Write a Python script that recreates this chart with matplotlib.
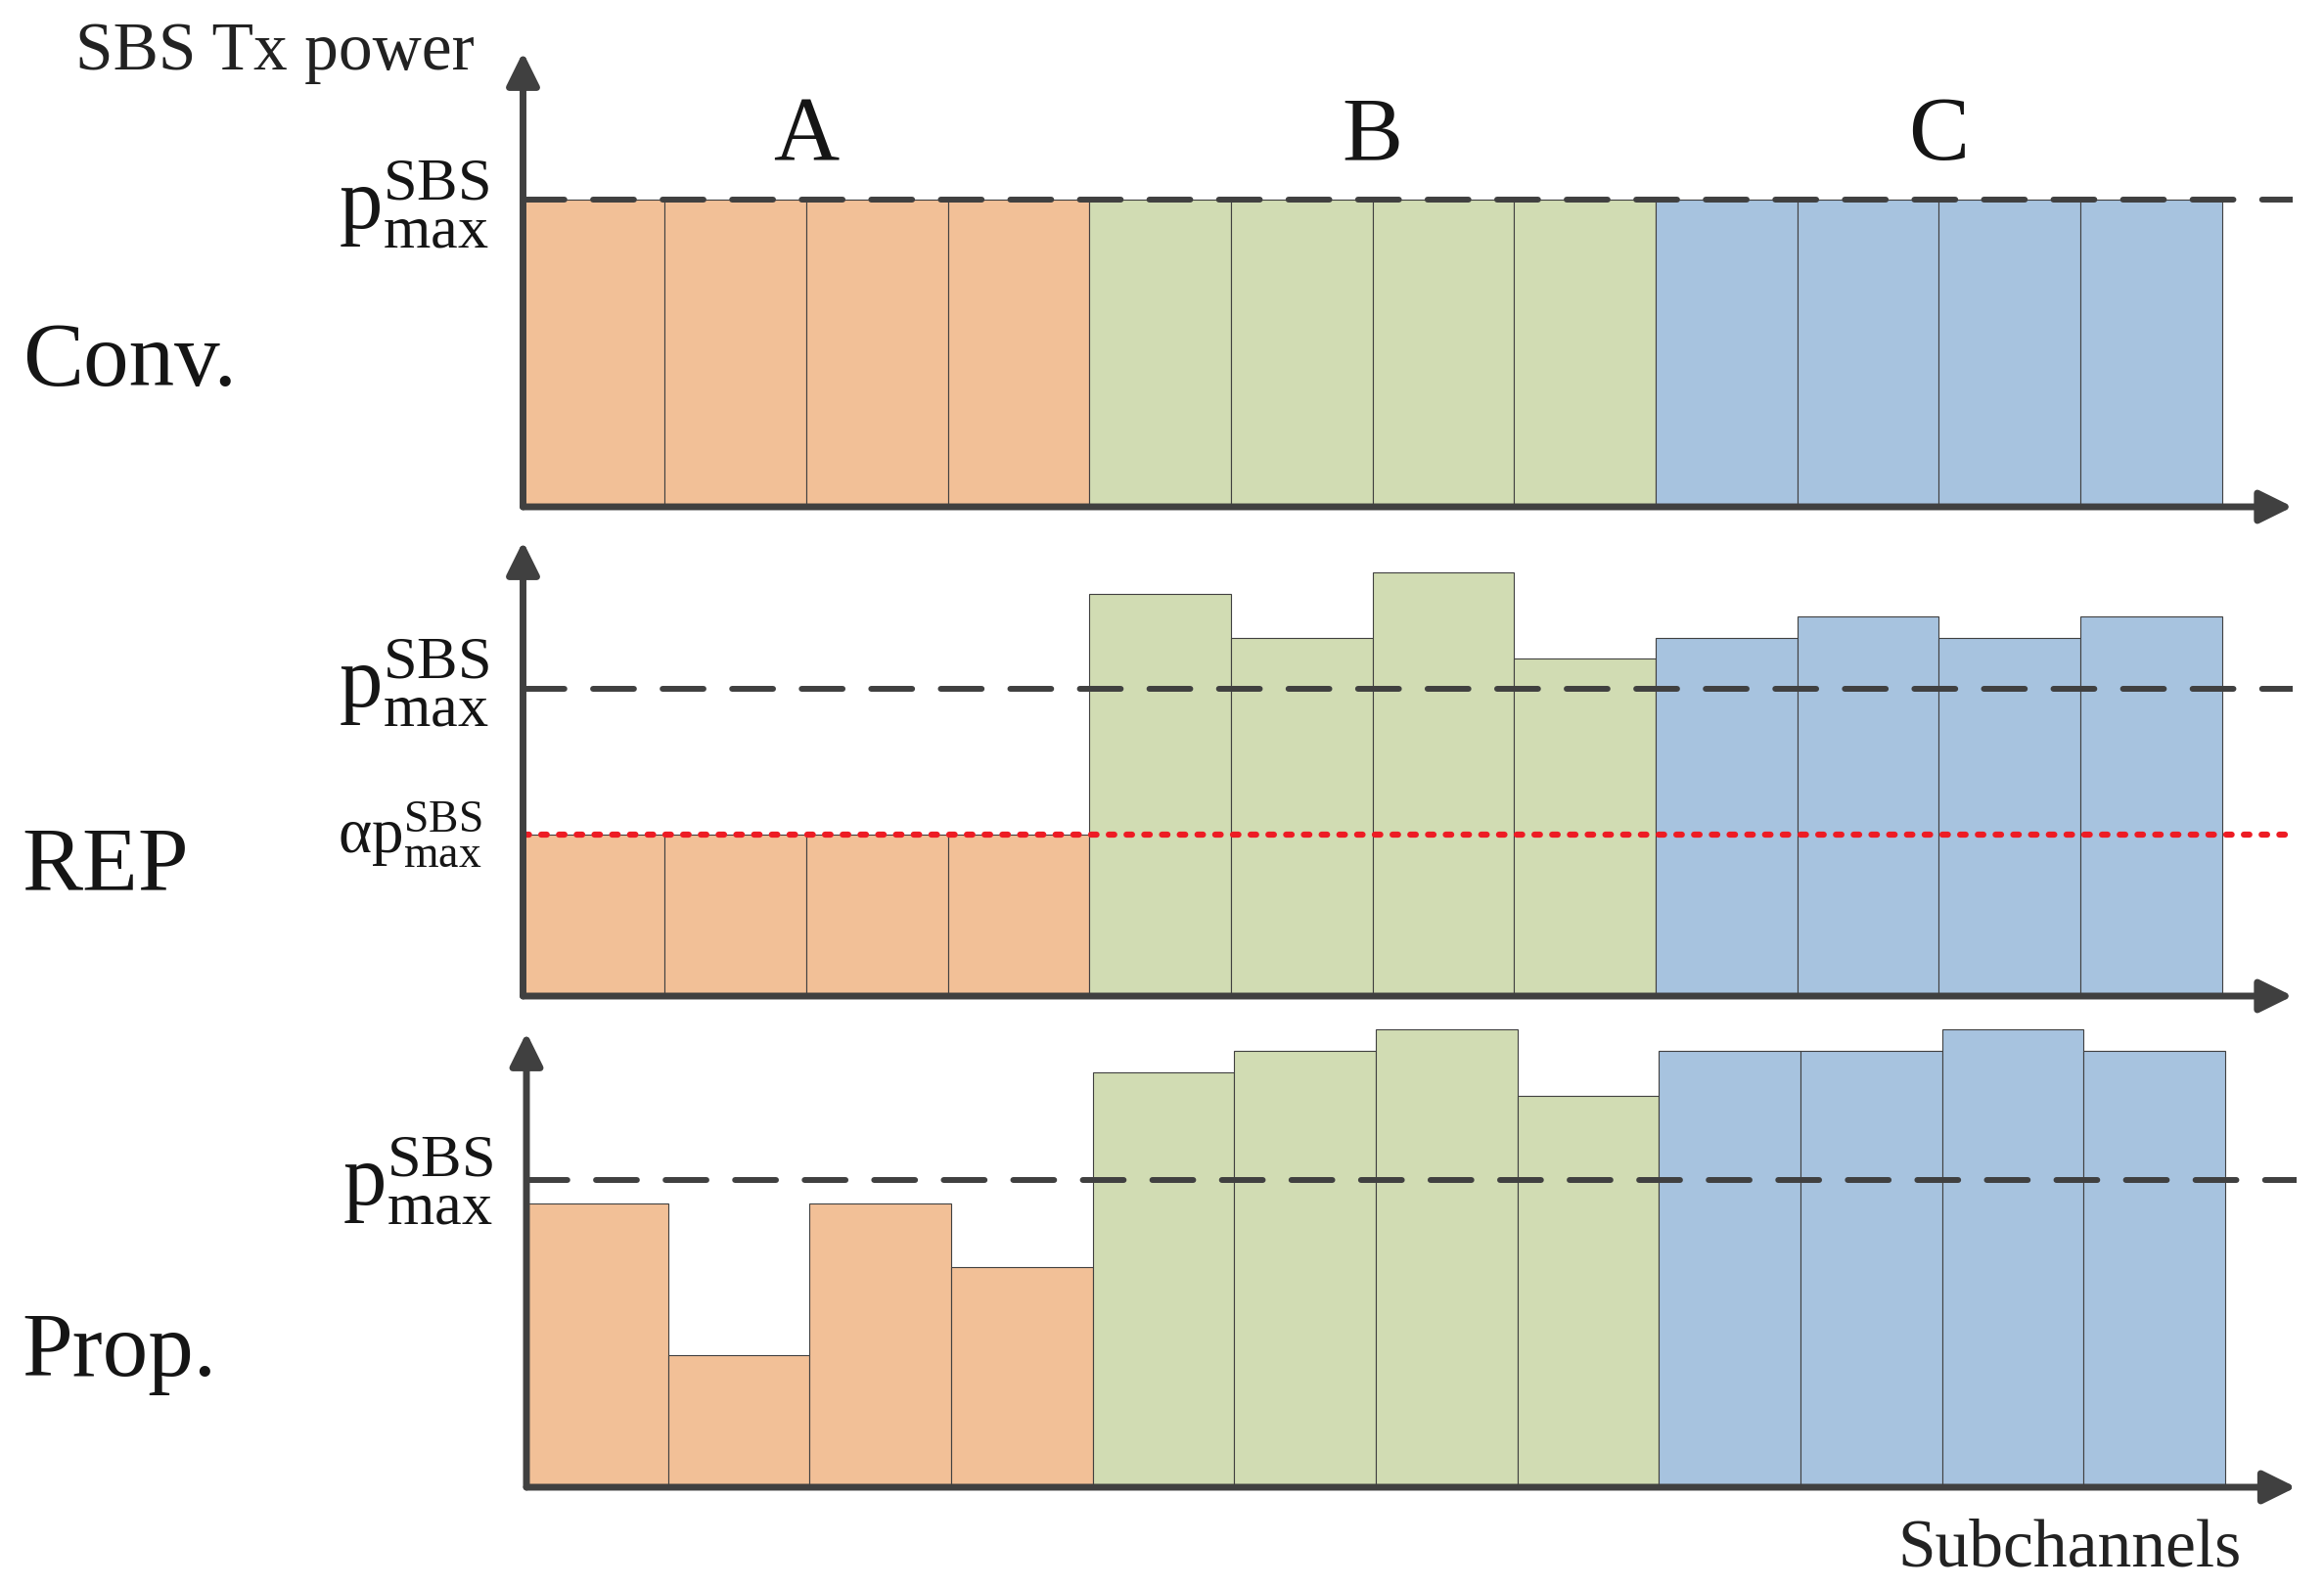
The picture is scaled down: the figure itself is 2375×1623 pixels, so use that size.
import numpy as np
import matplotlib
matplotlib.use('Agg')
import matplotlib.pyplot as plt
from matplotlib.transforms import offset_copy

plt.rcParams['font.family'] = ['Liberation Serif', 'DejaVu Serif']
plt.rcParams['mathtext.fontset'] = 'custom'
plt.rcParams['mathtext.rm'] = 'Liberation Serif'
plt.rcParams['mathtext.it'] = 'Liberation Serif:italic'

# power per subchannel, in units of p_max^SBS
groups = ['A'] * 4 + ['B'] * 4 + ['C'] * 4
conv = [1.0, 1.0, 1.0, 1.0, 1.0, 1.0, 1.0, 1.0, 1.0, 1.0, 1.0, 1.0]
rep = [0.525, 0.525, 0.525, 0.525, 1.31, 1.165, 1.38, 1.10, 1.165, 1.235, 1.165, 1.235]
prop = [0.925, 0.43, 0.925, 0.715, 1.35, 1.42, 1.49, 1.275, 1.42, 1.42, 1.49, 1.42]
alpha = 0.525
p_max = 1.0

group_names = ['A', 'B', 'C']
group_centers = [2, 6, 10]
colors = {'A': '#F2C097', 'B': '#D1DCB3', 'C': '#A7C3DF'}
dark = '#404040'
txt = '#151515'

W, Hpx = 2375, 1623
fig = plt.figure(figsize=(W / 100, Hpx / 100), dpi=100)
unit = 314.0          # pixels per p_max
ytop = 1.48
h = ytop * unit / Hpx
w = 1808.5 / W
XR = 12.5
ax_top = fig.add_axes([534.5 / W, 1 - 518 / Hpx, w, h])
ax_mid = fig.add_axes([534.5 / W, 1 - 1018 / Hpx, w, h])
ax_bot = fig.add_axes([538.0 / W, 1 - 1520 / Hpx, w, h])

pmax_lbl = r'$\mathrm{p}^{\mathrm{SBS}}_{\mathrm{max}}$'
apmax_lbl = r'$\mathrm{\alpha p}^{\mathrm{SBS}}_{\mathrm{max}}$'

lbl_dy = {'top': -21, 'mid': -13, 'bot': -18}
for key, ax, vals in [('top', ax_top, conv), ('mid', ax_mid, rep), ('bot', ax_bot, prop)]:
    x = np.arange(len(vals)) + 0.5
    ax.bar(x, vals, width=1.0, color=[colors[g] for g in groups],
           edgecolor=dark, linewidth=0.8, zorder=2, clip_on=False)
    ax.set_xlim(0, XR)
    ax.set_ylim(0, ytop)
    ax.axis('off')
    ax.axhline(p_max, color=dark, lw=4.3, dashes=(7.0, 4.9),
               dash_capstyle='round', zorder=4)
    # axes arrows
    for end in [(1, 0), (0, 1)]:
        ax.annotate('', xy=end, xytext=(0, 0), xycoords='axes fraction',
                    arrowprops=dict(arrowstyle='-|>,head_length=0.85,head_width=0.42',
                                    mutation_scale=24, lw=5, color=dark,
                                    shrinkA=0, shrinkB=0), zorder=5,
                    annotation_clip=False)
    tr = offset_copy(ax.get_yaxis_transform(), fig=fig, x=0, y=lbl_dy[key], units='points')
    ax.text(-0.019, p_max, pmax_lbl, transform=tr,
            ha='right', va='baseline', fontsize=64, color=txt)

ax_mid.axhline(alpha, color='#ED1C24', lw=4.5, dashes=(0.9, 2.0),
               dash_capstyle='round', zorder=4)
tr = offset_copy(ax_mid.get_yaxis_transform(), fig=fig, x=0, y=-13, units='points')
ax_mid.text(-0.023, alpha, apmax_lbl, transform=tr,
            ha='right', va='baseline', fontsize=47, color=txt)

for name, cx in zip(group_names, group_centers):
    ax_top.text(cx, 1.129, name, ha='center', va='baseline', fontsize=67, color=txt)

fig.text(0.2041, 0.9561, 'SBS Tx power', ha='right', va='baseline', fontsize=50, color='#222222')
fig.text(0.9643, 0.014, 'Subchannels', ha='right', va='baseline', fontsize=50, color='#222222')
fig.text(0.0096, 0.757, 'Conv.', ha='left', va='baseline', fontsize=67, color=txt)
fig.text(0.0096, 0.4398, 'REP', ha='left', va='baseline', fontsize=67, color=txt)
fig.text(0.0096, 0.1335, 'Prop.', ha='left', va='baseline', fontsize=67, color=txt)

fig.savefig('out.png', dpi=100)
